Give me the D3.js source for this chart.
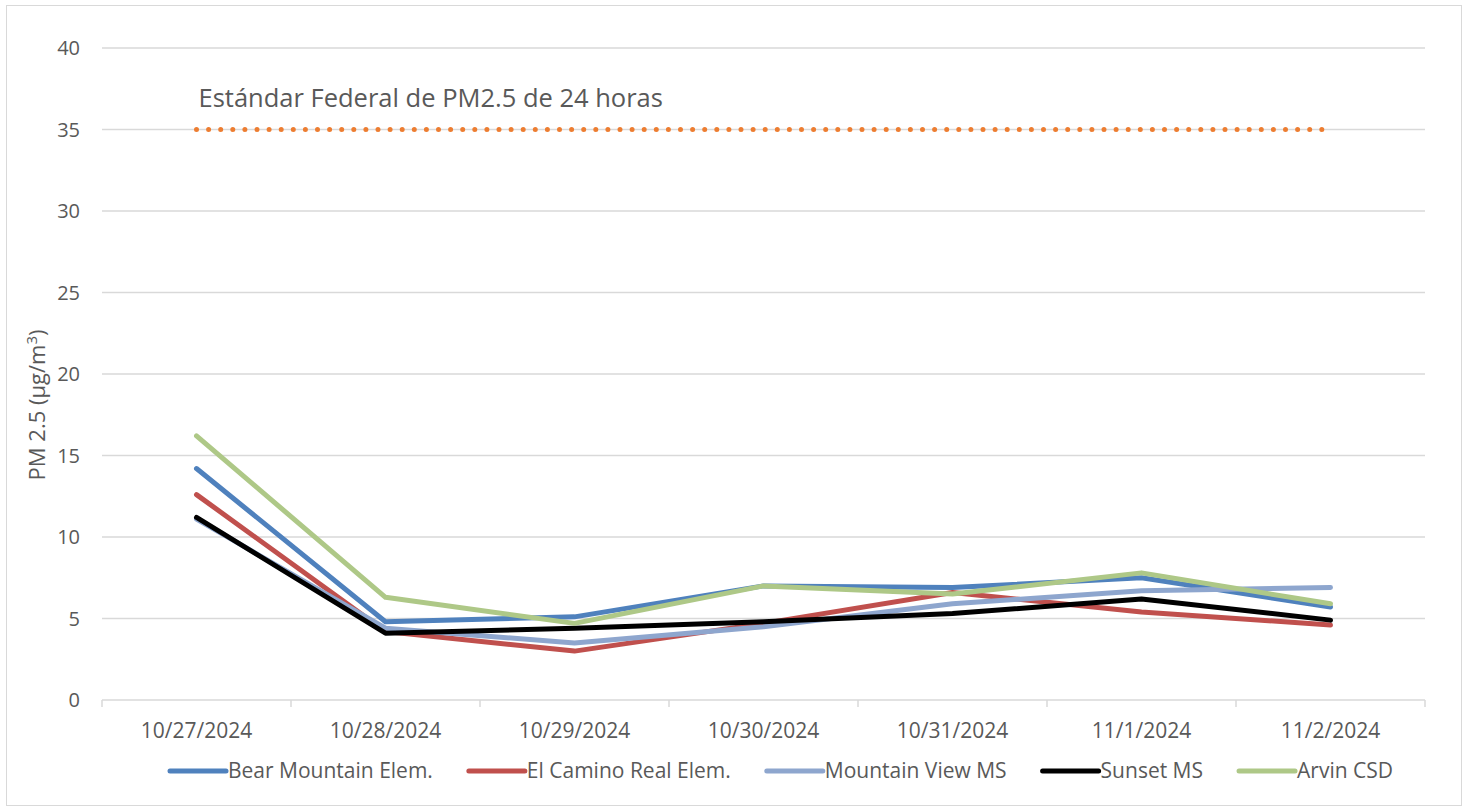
<!DOCTYPE html>
<html>
<head>
<meta charset="utf-8">
<script src="https://cdn.jsdelivr.net/npm/d3@7"></script>
<style>
  body { margin: 0; background: #fff; }
  text { font-family: "Open Sans", sans-serif; fill: #595959; }
</style>
</head>
<body>
<div id="chart"></div>
<script>
// data
const dates = ["10/27/2024", "10/28/2024", "10/29/2024", "10/30/2024", "10/31/2024", "11/1/2024", "11/2/2024"]
const bearMountain = [14.2, 4.8, 5.1, 7.0, 6.9, 7.5, 5.7]
const elCamino     = [12.6, 4.2, 3.0, 4.7, 6.6, 5.4, 4.6]
const mountainView = [11.1, 4.4, 3.5, 4.5, 5.9, 6.7, 6.9]
const sunset       = [11.2, 4.1, 4.4, 4.8, 5.3, 6.2, 4.9]
const arvin        = [16.2, 6.3, 4.7, 7.0, 6.5, 7.8, 5.9]
const yTicks = [0, 5, 10, 15, 20, 25, 30, 35, 40]
const standard = 35
const standardLabel = "Estándar Federal de PM2.5 de 24 horas"

const series = [
  {name: "Bear Mountain Elem.", values: bearMountain, color: "#4f81bd"},
  {name: "El Camino Real Elem.", values: elCamino, color: "#c0504d"},
  {name: "Mountain View MS", values: mountainView, color: "#8ea6ce"},
  {name: "Sunset MS", values: sunset, color: "#000000"},
  {name: "Arvin CSD", values: arvin, color: "#aec887"}
]

const W = 1468, H = 811
const margin = {top: 48, right: 43, bottom: 111, left: 102}
const width = W - margin.left - margin.right,
      height = H - margin.top - margin.bottom

const svg = d3.select("#chart").append("svg")
  .attr("width", W).attr("height", H)

// outer chart border
svg.append("rect")
  .attr("x", 6.5).attr("y", 5.5)
  .attr("width", W - 13).attr("height", H - 11)
  .attr("fill", "none").attr("stroke", "#d9d9d9")

const g = svg.append("g")
  .attr("transform", `translate(${margin.left},${margin.top})`)

const x = d3.scaleBand().domain(dates).range([0, width])
const y = d3.scaleLinear().domain([0, 40]).range([height, 0])

// gridlines
g.append("g")
  .selectAll("line")
  .data(yTicks.filter(d => d > 0))
  .join("line")
    .attr("x1", 0).attr("x2", width)
    .attr("y1", d => y(d)).attr("y2", d => y(d))
    .attr("stroke", "#d9d9d9").attr("stroke-width", 1.5)

// y axis labels
g.append("g")
  .selectAll("text")
  .data(yTicks)
  .join("text")
    .attr("x", -22).attr("y", d => y(d))
    .attr("dy", "0.35em")
    .attr("text-anchor", "end")
    .style("font-size", "20px")
    .text(d => d)

// x axis line + tick marks between categories
const xAxis = g.append("g").attr("transform", `translate(0,${height})`)
xAxis.append("line")
  .attr("x1", 0).attr("x2", width)
  .attr("stroke", "#d9d9d9").attr("stroke-width", 1.5)
xAxis.selectAll("line.tick")
  .data(dates.concat(["end"]))
  .join("line")
    .attr("class", "tick")
    .attr("x1", (d, i) => i * x.bandwidth()).attr("x2", (d, i) => i * x.bandwidth())
    .attr("y1", 0).attr("y2", 7)
    .attr("stroke", "#d9d9d9").attr("stroke-width", 1.5)
xAxis.selectAll("text")
  .data(dates)
  .join("text")
    .attr("x", d => x(d) + x.bandwidth() / 2)
    .attr("y", 38)
    .attr("text-anchor", "middle")
    .style("font-size", "21px")
    .text(d => d)

// y axis title
g.append("text")
  .attr("transform", `translate(${-57},${y(18.1)}) rotate(-90)`)
  .attr("text-anchor", "middle")
  .style("font-size", "22px")
  .call(t => {
    t.append("tspan").text("PM 2.5 (µg/m")
    t.append("tspan").attr("dy", -8).style("font-size", "15px").text("3")
    t.append("tspan").attr("dy", 8).text(")")
  })

// federal standard dotted line
const cx = d => x(d) + x.bandwidth() / 2
g.append("line")
  .attr("x1", cx(dates[0])).attr("x2", cx(dates[dates.length - 1]))
  .attr("y1", y(standard)).attr("y2", y(standard))
  .attr("stroke", "#ed7d31").attr("stroke-width", 5)
  .attr("stroke-linecap", "round")
  .attr("stroke-dasharray", "0 12.1")

g.append("text")
  .attr("x", cx(dates[0]) + 2).attr("y", y(standard) - 23)
  .style("font-size", "25.5px")
  .text(standardLabel)

// series lines
const line = d3.line()
  .x((d, i) => cx(dates[i]))
  .y(d => y(d))

g.append("g")
  .selectAll("path")
  .data(series)
  .join("path")
    .attr("d", d => line(d.values))
    .attr("fill", "none")
    .attr("stroke", d => d.color)
    .attr("stroke-width", 5)
    .attr("stroke-linejoin", "round")
    .attr("stroke-linecap", "round")

// legend
const legend = svg.append("g").attr("transform", "translate(170,771)")
let lx = 0
series.forEach(s => {
  const item = legend.append("g").attr("transform", `translate(${lx},0)`)
  item.append("line")
    .attr("x1", 0).attr("x2", 56)
    .attr("stroke", s.color).attr("stroke-width", 5)
    .attr("stroke-linecap", "round")
  const t = item.append("text")
    .attr("x", 58).attr("dy", "0.35em")
    .style("font-size", "21px")
    .text(s.name)
  lx += 58 + t.node().getComputedTextLength() + 36
})
</script>
</body>
</html>
